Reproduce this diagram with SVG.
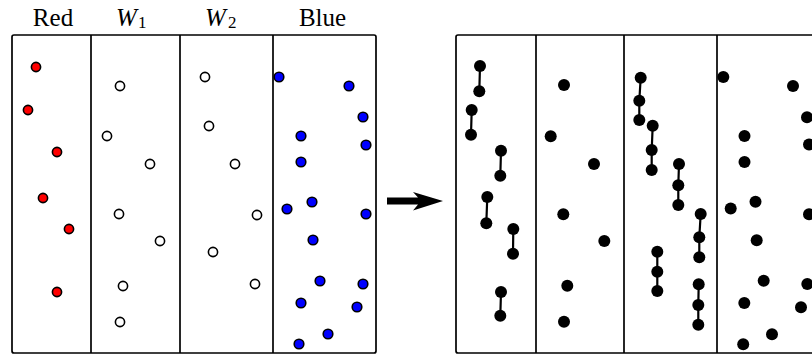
<svg xmlns="http://www.w3.org/2000/svg" width="812" height="358" viewBox="0 0 812 358">
<style>
.frame{fill:#fff;stroke:#000;stroke-width:1.7}
.div{stroke:#000;stroke-width:1.7}
.lbl{font-family:"Liberation Serif","Times New Roman",serif;font-size:25px;fill:#000}
.sub{font-family:"Liberation Serif","Times New Roman",serif;font-size:17px;fill:#000}
.r{fill:#ff0000;stroke:#000;stroke-width:1.6}
.w{fill:#fff;stroke:#000;stroke-width:1.6}
.b{fill:#0000ff;stroke:#000;stroke-width:1.6}
.k{fill:#000}
.link{stroke:#000;stroke-width:2.2;fill:none}
</style>
<rect width="812" height="358" fill="#fff"/>
<g id="labels">
<text class="lbl" x="53" y="26" text-anchor="middle">Red</text>
<text class="lbl" x="116" y="26" font-style="italic">W</text><text class="sub" x="138" y="28">1</text>
<text class="lbl" x="205" y="26" font-style="italic">W</text><text class="sub" x="228" y="28">2</text>
<text class="lbl" x="322.5" y="26" text-anchor="middle">Blue</text>
</g>
<g id="left-panel">
<rect class="frame" x="12" y="35" width="364" height="318" rx="2"/>
<line class="div" x1="91" y1="35" x2="91" y2="353"/>
<line class="div" x1="180" y1="35" x2="180" y2="353"/>
<line class="div" x1="273" y1="35" x2="273" y2="353"/>
</g>
<g id="red">
<circle class="r" cx="36" cy="67" r="4.6"/>
<circle class="r" cx="28" cy="110" r="4.6"/>
<circle class="r" cx="57" cy="152" r="4.6"/>
<circle class="r" cx="43" cy="198" r="4.6"/>
<circle class="r" cx="69" cy="229" r="4.6"/>
<circle class="r" cx="57" cy="292" r="4.6"/>
</g>
<g id="w1">
<circle class="w" cx="120" cy="86" r="4.6"/>
<circle class="w" cx="107" cy="136" r="4.6"/>
<circle class="w" cx="150" cy="164" r="4.6"/>
<circle class="w" cx="119" cy="214" r="4.6"/>
<circle class="w" cx="160" cy="241" r="4.6"/>
<circle class="w" cx="123" cy="286" r="4.6"/>
<circle class="w" cx="120" cy="322" r="4.6"/>
</g>
<g id="w2">
<circle class="w" cx="205" cy="77" r="4.6"/>
<circle class="w" cx="209" cy="126" r="4.6"/>
<circle class="w" cx="235" cy="164" r="4.6"/>
<circle class="w" cx="257" cy="215" r="4.6"/>
<circle class="w" cx="213" cy="252" r="4.6"/>
<circle class="w" cx="255" cy="284" r="4.6"/>
</g>
<g id="blue">
<circle class="b" cx="279" cy="77" r="4.8"/>
<circle class="b" cx="349" cy="86" r="4.8"/>
<circle class="b" cx="363" cy="117" r="4.8"/>
<circle class="b" cx="301" cy="136" r="4.8"/>
<circle class="b" cx="366" cy="145" r="4.8"/>
<circle class="b" cx="301" cy="162" r="4.8"/>
<circle class="b" cx="287" cy="209" r="4.8"/>
<circle class="b" cx="312" cy="202" r="4.8"/>
<circle class="b" cx="366" cy="214" r="4.8"/>
<circle class="b" cx="313" cy="240" r="4.8"/>
<circle class="b" cx="320" cy="281" r="4.8"/>
<circle class="b" cx="363" cy="284" r="4.8"/>
<circle class="b" cx="301" cy="303" r="4.8"/>
<circle class="b" cx="357" cy="307" r="4.8"/>
<circle class="b" cx="328" cy="334" r="4.8"/>
<circle class="b" cx="299" cy="344" r="4.8"/>
</g>
<g id="arrow">
<path d="M387,197.5 H418 L413,192 L443,201 L413,210.5 L418,204.5 H387 Z" fill="#000"/>
</g>
<g id="right-panel">
<rect class="frame" x="456" y="35" width="364" height="318" rx="2"/>
<line class="div" x1="536" y1="35" x2="536" y2="353"/>
<line class="div" x1="624" y1="35" x2="624" y2="353"/>
<line class="div" x1="717" y1="35" x2="717" y2="353"/>
</g>
<g id="connectors">
<path class="link" d="M480,66 L479.3,91.3 M471.7,110 L471,134.7 M501,150.7 L500.3,175.7 M487.3,197 L486.3,223.3 M513.3,229 L513,253.7 M501,292 L500.3,315.7"/>
<path class="link" d="M640.7,77.7 L639.3,100.7 L639.3,120 M652.7,125.7 L651.7,150 L651.7,170 M679,164 L678.3,185.3 L678.3,205 M700.7,214 L699.3,237.3 L699.3,257.3 M657.3,251.7 L657.3,271.7 L657.3,291 M698.7,284.3 L698.3,305 L698.3,324.7"/>
</g>
<g id="r-col1">
<circle class="k" cx="480" cy="66" r="6"/>
<circle class="k" cx="479.3" cy="91.3" r="6"/>
<circle class="k" cx="471.7" cy="110" r="6"/>
<circle class="k" cx="471" cy="134.7" r="6"/>
<circle class="k" cx="501" cy="150.7" r="6"/>
<circle class="k" cx="500.3" cy="175.7" r="6"/>
<circle class="k" cx="487.3" cy="197" r="6"/>
<circle class="k" cx="486.3" cy="223.3" r="6"/>
<circle class="k" cx="513.3" cy="229" r="6"/>
<circle class="k" cx="513" cy="253.7" r="6"/>
<circle class="k" cx="501" cy="292" r="6"/>
<circle class="k" cx="500.3" cy="315.7" r="6"/>
</g>
<g id="r-col2">
<circle class="k" cx="564" cy="85" r="6"/>
<circle class="k" cx="550.7" cy="136.3" r="6"/>
<circle class="k" cx="594" cy="164" r="6"/>
<circle class="k" cx="563.3" cy="214.3" r="6"/>
<circle class="k" cx="604.3" cy="241" r="6"/>
<circle class="k" cx="567.3" cy="285.7" r="6"/>
<circle class="k" cx="564" cy="321.7" r="6"/>
</g>
<g id="r-col3">
<circle class="k" cx="640.7" cy="77.7" r="6"/>
<circle class="k" cx="639.3" cy="100.7" r="6"/>
<circle class="k" cx="639.3" cy="120" r="6"/>
<circle class="k" cx="652.7" cy="125.7" r="6"/>
<circle class="k" cx="651.7" cy="150" r="6"/>
<circle class="k" cx="651.7" cy="170" r="6"/>
<circle class="k" cx="679" cy="164" r="6"/>
<circle class="k" cx="678.3" cy="185.3" r="6"/>
<circle class="k" cx="678.3" cy="205" r="6"/>
<circle class="k" cx="700.7" cy="214" r="6"/>
<circle class="k" cx="699.3" cy="237.3" r="6"/>
<circle class="k" cx="699.3" cy="257.3" r="6"/>
<circle class="k" cx="657.3" cy="251.7" r="6"/>
<circle class="k" cx="657.3" cy="271.7" r="6"/>
<circle class="k" cx="657.3" cy="291" r="6"/>
<circle class="k" cx="698.7" cy="284.3" r="6"/>
<circle class="k" cx="698.3" cy="305" r="6"/>
<circle class="k" cx="698.3" cy="324.7" r="6"/>
</g>
<g id="r-col4">
<circle class="k" cx="723.3" cy="77" r="6"/>
<circle class="k" cx="793" cy="86" r="6"/>
<circle class="k" cx="807" cy="117.3" r="6"/>
<circle class="k" cx="744.5" cy="136" r="6"/>
<circle class="k" cx="809" cy="144.5" r="6"/>
<circle class="k" cx="744.5" cy="162" r="6"/>
<circle class="k" cx="730.7" cy="208.5" r="6"/>
<circle class="k" cx="755.5" cy="201.7" r="6"/>
<circle class="k" cx="809" cy="214.2" r="6"/>
<circle class="k" cx="756.7" cy="240.2" r="6"/>
<circle class="k" cx="763.7" cy="280.7" r="6"/>
<circle class="k" cx="807.3" cy="284" r="6"/>
<circle class="k" cx="744.3" cy="303" r="6"/>
<circle class="k" cx="801" cy="307.3" r="6"/>
<circle class="k" cx="772" cy="334.2" r="6"/>
<circle class="k" cx="743.2" cy="344.2" r="6"/>
</g>
</svg>
